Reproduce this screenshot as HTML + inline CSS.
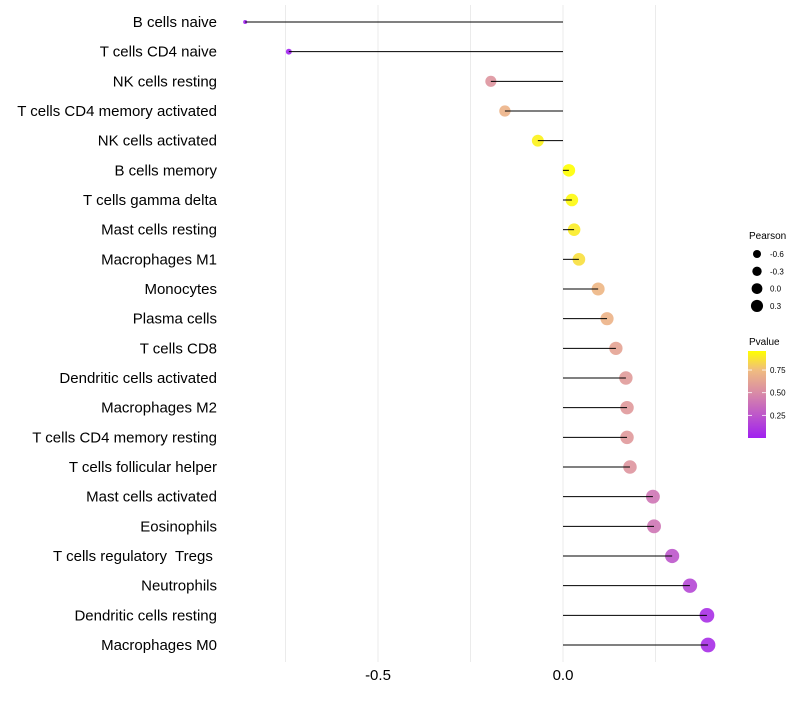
<!DOCTYPE html>
<html><head><meta charset="utf-8"><style>
body{margin:0;background:#fff;font-family:"Liberation Sans",sans-serif}
</style></head><body>
<svg id="chart" width="800" height="700" xmlns="http://www.w3.org/2000/svg" font-family="Liberation Sans, sans-serif">
<defs><linearGradient id="pg" x1="0" y1="1" x2="0" y2="0">
<stop offset="0" stop-color="#A020F0"/><stop offset="0.52" stop-color="#D98BA6"/><stop offset="0.78" stop-color="#F0BC80"/><stop offset="1" stop-color="#FFFF00"/></linearGradient></defs>
<g id="grid"></g>
<g id="marks"></g>
<g id="ylabels"></g>
<g id="xlabels"></g>
<g>
<text x="749" y="239" font-size="10" fill="#000">Pearson</text>
<g id="sizeleg"></g>
</g>
<g>
<text x="749" y="345" font-size="10" fill="#000">Pvalue</text>
<rect x="748" y="351" width="18" height="87" fill="url(#pg)"/>
<g id="cbticks"></g>
</g>
</svg>
<script>
const categories=["B cells naive","T cells CD4 naive","NK cells resting","T cells CD4 memory activated","NK cells activated","B cells memory","T cells gamma delta","Mast cells resting","Macrophages M1","Monocytes","Plasma cells","T cells CD8","Dendritic cells activated","Macrophages M2","T cells CD4 memory resting","T cells follicular helper","Mast cells activated","Eosinophils","T cells regulatory  Tregs ","Neutrophils","Dendritic cells resting","Macrophages M0"];
const pearson=[-0.859,-0.741,-0.195,-0.157,-0.068,0.016,0.024,0.030,0.043,0.095,0.119,0.143,0.170,0.173,0.173,0.181,0.243,0.246,0.295,0.343,0.389,0.392];
const pvalue=[0.0,0.01,0.55,0.7,0.92,0.96,0.94,0.9,0.86,0.72,0.7,0.62,0.58,0.57,0.57,0.55,0.4,0.4,0.25,0.18,0.07,0.06];
const xTicks=[-0.5,0.0];
const xTickLabels=["-0.5","0.0"];
const gridVals=[-0.75,-0.5,-0.25,0,0.25];
const sizeLegVals=[-0.6,-0.3,0.0,0.3];
const cbTickVals=[0.25,0.5,0.75];
const cbTickLabels=["0.25","0.50","0.75"];
const NS="http://www.w3.org/2000/svg";
const xs=v=>563+v*370;
const ys=i=>22+i*29.667;
const rs=v=>Math.sqrt(Math.max(2,4+40*(v+0.86)));
const stops=[[0,[160,32,240]],[0.52,[217,139,166]],[0.78,[240,188,128]],[1,[255,255,0]]];
function col(p){let t=Math.min(1,Math.max(0,p/0.96));for(let k=1;k<stops.length;k++){if(t<=stops[k][0]){const a=stops[k-1],b=stops[k];const f=(t-a[0])/(b[0]-a[0]);const c=a[1].map((x,j)=>Math.round(x+(b[1][j]-x)*f));return `rgb(${c})`;}}return "rgb(255,255,0)";}
function mk(tag,attrs,parent){const e=document.createElementNS(NS,tag);for(const k in attrs)e.setAttribute(k,attrs[k]);parent.appendChild(e);return e;}
const grid=document.getElementById('grid'),marks=document.getElementById('marks'),yl=document.getElementById('ylabels'),xl=document.getElementById('xlabels');
gridVals.forEach(v=>{const l=mk('line',{x1:xs(v),x2:xs(v),y1:5,y2:662,stroke:'#ebebeb','stroke-width':1},grid);

});
categories.forEach((c,i)=>{const y=ys(i);
const cc=mk('circle',{cx:xs(pearson[i]),cy:y,r:rs(pearson[i]),fill:col(pvalue[i]),'fill-opacity':0.9},marks);


const seg=mk('line',{x1:xs(0),x2:xs(pearson[i]),y1:y,y2:y,stroke:'#000','stroke-width':1},marks);


const t=mk('text',{x:217,y:y+5,'text-anchor':'end','font-size':15,fill:'#000','xml:space':'preserve',style:'white-space:pre'},yl);t.textContent=c;

});
xTicks.forEach((v,i)=>{const t=mk('text',{x:xs(v),y:680,'text-anchor':'middle','font-size':15,fill:'#000'},xl);t.textContent=xTickLabels[i];

});
const sl=document.getElementById('sizeleg');
sizeLegVals.forEach((v,i)=>{const y=254+i*17.3;
const c=mk('circle',{cx:757,cy:y,r:4+(v+0.6)*2.3,fill:'#000'},sl);


const t=mk('text',{x:770,y:y+3,'font-size':8,fill:'#000'},sl);t.textContent=v.toFixed(1);

});
const cb=document.getElementById('cbticks');
cbTickVals.forEach((v,i)=>{const y=438-(v/0.96)*87;
mk('line',{x1:748,x2:752,y1:y,y2:y,stroke:'#fff','stroke-width':0.8},cb);
mk('line',{x1:762,x2:766,y1:y,y2:y,stroke:'#fff','stroke-width':0.8},cb);
const t=mk('text',{x:770,y:y+3,'font-size':8,fill:'#000'},cb);t.textContent=cbTickLabels[i];

});
</script>
</body></html>
